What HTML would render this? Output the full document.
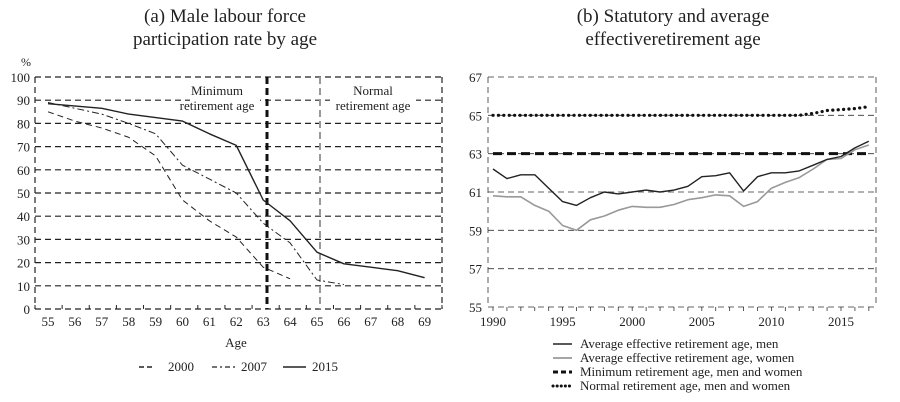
<!DOCTYPE html>
<html><head><meta charset="utf-8"><style>
html,body{margin:0;padding:0;background:#fff;}
svg{display:block;font-family:"Liberation Serif",serif;}
</style></head><body>
<svg id="s" width="900" height="402" viewBox="0 0 900 402" xmlns="http://www.w3.org/2000/svg"></svg>
<script>
var s=document.getElementById('s'),h='';
function L(x1,y1,x2,y2,st,w,d){h+='<line x1="'+x1+'" y1="'+y1+'" x2="'+x2+'" y2="'+y2+'" stroke="'+st+'" stroke-width="'+w+'"'+(d?' stroke-dasharray="'+d+'"':'')+'/>';}
function T(x,y,t,sz,a,f){h+='<text x="'+x+'" y="'+y+'" font-size="'+sz+'" text-anchor="'+(a||'middle')+'" fill="'+(f||'#222')+'">'+t+'</text>';}
function P(pts,st,w,d){h+='<polyline fill="none" points="'+pts.join(' ')+'" stroke="'+st+'" stroke-width="'+w+'"'+(d?' stroke-dasharray="'+d+'"':'')+' stroke-linejoin="round"/>';}
T(225,22,'(a) Male labour force',19);T(225,45,'participation rate by age',19);
T(673,22,'(b) Statutory and average',19);T(673,45,'effectiveretirement age',19);
var lx0=35,lx1=442,ly0=309,ly100=77;function ly(v){return ly0-(ly0-ly100)*v/100;}
function lxa(a){return 48+(a-55)*26.9;}
for(var v=10;v<=100;v+=10)L(lx0,ly(v),lx1,ly(v),'#222',1.2,'6,4');
L(lx0,ly0,lx1,ly0,'#222',1.2,'6,4');
L(lx0,ly100,lx0,ly0,'#222',1.2,'6,4');L(lx1,ly100,lx1,ly0,'#222',1.2,'6,4');
for(var a=0;a<=15;a++){var xx=lx0+a*(lx1-lx0)/15;L(xx,ly0,xx,ly0-4,'#222',1);}
for(var v=0;v<=100;v+=10)T(30,ly(v)+5,v,13,'end');
T(26,66,'%',12,'middle');
for(var a=55;a<=69;a++)T(lxa(a),326,a,13);
T(236,347,'Age',13);
h+='<rect x="190" y="82" width="70" height="32" fill="#fff"/><rect x="330" y="82" width="86" height="32" fill="#fff"/>';
L(267,ly100,267,ly0,'#111',3,'7,4');L(320,ly100,320,ly0,'#999',2,'7,4');
T(217,95,'Minimum',13);T(217,110,'retirement age',13);
T(373,95,'Normal',13);T(373,110,'retirement age',13);
function ser(arr){return arr.map(function(p){return lxa(p[0]).toFixed(1)+','+ly(p[1]).toFixed(1)});}
P(ser([[55,88.5],[57,86.5],[58,84],[60,81],[61,75.5],[62,70.5],[63,47],[64,38],[65,24.5],[66,19.5],[67,18],[68,16.5],[69,13.5]]),'#222',1.4);
P(ser([[55,89],[57,84],[58,80],[59,75.5],[60,62],[61,56],[62,50],[63,37],[64,28.5],[65,12.5],[66,10.5]]),'#222',1,'7,3,2,3');
P(ser([[55,85],[56,81],[57,78],[58,74],[59,66],[60,47],[61,38],[62,31],[63,18],[64,13]]),'#222',1,'6,4');
L(139,367,152,367,'#222',1.4,'5,3');T(168,371,'2000',13,'start');
L(212,367,238,367,'#222',1.2,'5,3,2,3');T(241,371,'2007',13,'start');
L(283,367,306,367,'#222',1.6);T(312,371,'2015',13,'start');
var rx0=488,rx1=876,ry55=307,ry67=77;function ry(v){return ry55-(ry55-ry67)*(v-55)/12;}
function rxa(y){return 493+(y-1990)*13.92;}
[57,59,61,63,65,67].forEach(function(v){L(rx0,ry(v),rx1,ry(v),'#333',0.8,'6,4');});
L(rx0,ry55,rx1,ry55,'#333',0.8,'6,4');
L(rx0,ry67,rx0,ry55,'#333',0.8,'6,4');L(rx1,ry67,rx1,ry55,'#333',0.8,'6,4');
for(var y=1990;y<=2017;y++)L(rxa(y),ry55,rxa(y),ry55+4,'#333',0.8);
[55,57,59,61,63,65,67].forEach(function(v){T(482,ry(v)+5,v,13,'end');});
for(var y=1990;y<=2015;y+=5)T(rxa(y),326,y,13);
var men=[62.2,61.7,61.9,61.9,61.2,60.5,60.3,60.7,61.0,60.9,61.0,61.1,61.0,61.1,61.3,61.8,61.85,62.0,61.05,61.8,62.0,62.0,62.1,62.4,62.7,62.85,63.3,63.65];
var wom=[60.8,60.75,60.75,60.3,60.0,59.25,59.0,59.55,59.75,60.05,60.25,60.2,60.2,60.35,60.6,60.7,60.85,60.8,60.25,60.5,61.2,61.5,61.75,62.2,62.7,62.75,63.2,63.45];
var nor=[];for(var i=0;i<28;i++)nor.push(65);nor[23]=65.1;nor[24]=65.25;nor[25]=65.3;nor[26]=65.35;nor[27]=65.45;
function rs(arr){return arr.map(function(v,i){return rxa(1990+i).toFixed(1)+','+ry(v).toFixed(1)});}
L(rxa(1990),ry(63),rxa(2017),ry(63),'#111',3,'9,5');
h+='<polyline fill="none" points="'+rs(nor).join(' ')+'" stroke="#111" stroke-width="3.2" stroke-dasharray="0.1,5.3" stroke-linecap="round"/>';
P(rs(wom),'#999',1.6);
P(rs(men),'#222',1.4);
var lg=[['#222',1.6,''],['#999',1.8,''],['#111',3,'5,3'],['#111',3,'0.1,4']];
var lt=['Average effective retirement age, men','Average effective retirement age, women','Minimum retirement age, men and women','Normal retirement age, men and women'];
for(var i=0;i<4;i++){var yy=344+i*14;h+='<line x1="553" y1="'+yy+'" x2="572" y2="'+yy+'" stroke="'+lg[i][0]+'" stroke-width="'+lg[i][1]+'"'+(lg[i][2]?' stroke-dasharray="'+lg[i][2]+'"':'')+(i==3?' stroke-linecap="round"':'')+'/>';T(580,yy+4,lt[i],13,'start');}
s.innerHTML=h;
</script>
</body></html>
